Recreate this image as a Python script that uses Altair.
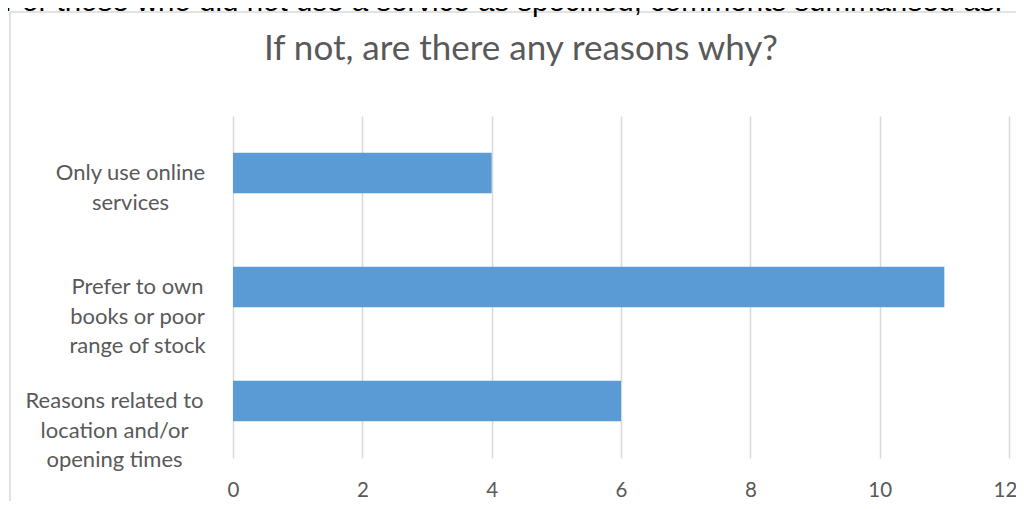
import altair as alt
import pandas as pd

# ---- data ----
categories = [
    "Only use online|services",
    "Prefer to own|books or poor|range of stock",
    "Reasons related to|location and/or|opening times",
]
counts = [4, 11, 6]
x_ticks = [0, 2, 4, 6, 8, 10, 12]
title_text = "If not, are there any reasons why?"
intro_text = "For those who did not use a service as specified, comments summarised as:"

# label padding per category (centres the multi-line block like Excel does)
label_pad = [103, 96, 119]

df = pd.DataFrame({"reason": categories, "count": counts})
one = pd.DataFrame({"k": [0]})

GREY_TXT = "#595959"
GRID = "#D9D9D9"

pad_cond = {
    "condition": [
        {"test": f"datum.value === '{categories[0]}'", "value": label_pad[0]},
        {"test": f"datum.value === '{categories[1]}'", "value": label_pad[1]},
    ],
    "value": label_pad[2],
}
# keep the last tick label inside the page
offset_cond = {
    "condition": {"test": f"datum.value === {x_ticks[-1]}", "value": -4},
    "value": 0,
}

bars = alt.Chart(df).mark_bar(color="#5B9BD5", size=40.5).encode(
    x=alt.X(
        "count:Q",
        scale=alt.Scale(domain=[0, 12], nice=False, zero=True),
        axis=alt.Axis(
            values=x_ticks, title=None, grid=True, gridColor=GRID, gridWidth=1.5,
            domain=False, ticks=False, labelFont="Lato", labelFontSize=20.5,
            labelColor=GREY_TXT, labelPadding=22, labelFlush=False,
            labelOffset=offset_cond,
        ),
    ),
    y=alt.Y(
        "reason:N", sort=categories,
        scale=alt.Scale(paddingInner=0, paddingOuter=0),
        axis=alt.Axis(
            title=None, domain=False, ticks=False, grid=False,
            labelExpr="split(datum.label, '|')", labelAlign="center",
            labelBaseline="middle", labelFont="Lato", labelFontSize=22,
            labelColor=GREY_TXT, labelLineHeight=29.5, labelLimit=0,
            labelPadding=pad_cond,
        ),
    ),
)

border_v = alt.Chart(one).mark_rule(color=GRID, strokeWidth=1.5).encode(
    x=alt.value(-223), y=alt.value(-104), y2=alt.value(440)
)
border_h = alt.Chart(one).mark_rule(color=GRID, strokeWidth=1.5).encode(
    x=alt.value(-223), x2=alt.value(820), y=alt.value(-104)
)
intro = alt.Chart(one).mark_text(
    font="Liberation Sans", fontSize=29.5, align="left", baseline="alphabetic", color="black"
).encode(x=alt.value(-229), y=alt.value(-105.5), text=alt.value(intro_text))
title = alt.Chart(one).mark_text(
    font="Lato", fontSize=35, align="center", baseline="alphabetic", color=GREY_TXT
).encode(x=alt.value(288), y=alt.value(-56.5), text=alt.value(title_text))

chart = alt.layer(border_v, border_h, intro, title, bars).properties(
    width=776, height=342,
    autosize=alt.AutoSizeParams(type="none"),
    padding={"left": 225, "top": 108, "right": 7, "bottom": 43},
).configure_view(stroke=None)

chart.save("out.html", embed_options={"renderer": "svg", "actions": False})
